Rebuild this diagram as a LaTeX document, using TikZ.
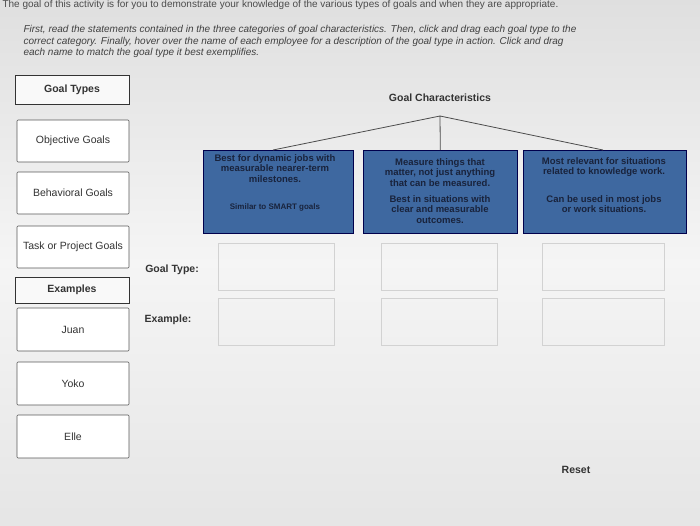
\documentclass[tikz,border=0pt]{standalone}
\usepackage{fontspec}
\setmainfont{Liberation Sans}
\definecolor{bluebox}{RGB}{62,104,160}
\definecolor{bluetext}{RGB}{25,35,60}
\begin{document}
\begin{tikzpicture}[x=1pt,y=-1pt,
  card/.style={draw=gray!70!black,fill=white,rounded corners=1pt,line width=0.6pt,font=\fontsize{10.5}{12}\selectfont,text=black!80},
  head/.style={draw=black!80,fill=white!95!gray,line width=1pt,font=\bfseries\fontsize{10.5}{12}\selectfont,text=black!80},
  blue/.style={draw=blue!30!black,fill=bluebox,line width=0.6pt,text=bluetext,font=\bfseries\fontsize{9.5}{10.5}\selectfont,align=center},
  slot/.style={draw=gray!35,line width=0.5pt},
  lbl/.style={font=\bfseries\fontsize{10.5}{12}\selectfont,text=black!80}]
\shade[top color=gray!25,bottom color=gray!20,middle color=white!92!gray] (0,0) rectangle (700,525);
\useasboundingbox (0,0) rectangle (700,525);
\node[anchor=west,font=\fontsize{10}{12}\selectfont,text=black!70] (intro) at (-1,5) {The goal of this activity is for you to demonstrate your knowledge of the various types of goals and when they are appropriate.};
\node[anchor=north west,font=\itshape\fontsize{10}{11.5}\selectfont,text=black!75,align=left] (instr) at (20,22) {First, read the statements contained in the three categories of goal characteristics. Then, click and drag each goal type to the\\correct category. Finally, hover over the name of each employee for a description of the goal type in action. Click and drag\\each name to match the goal type it best exemplifies.};
\node[head,minimum width=114,minimum height=29] (gt) at (72,89.5) {Goal Types};
\node[card,minimum width=112,minimum height=42] (obj) at (73,141) {Objective Goals};
\node[card,minimum width=112,minimum height=42] (beh) at (73,193) {Behavioral Goals};
\node[card,minimum width=112,minimum height=42] (task) at (73,247) {Task or Project Goals};
\node[head,minimum width=114,minimum height=26] (ex) at (72,290) {Examples};
\node[card,minimum width=112,minimum height=43] (juan) at (73,329.5) {Juan};
\node[card,minimum width=112,minimum height=43] (yoko) at (73,383.5) {Yoko};
\node[card,minimum width=112,minimum height=43] (elle) at (73,436.5) {Elle};
\node[lbl] (gc) at (440,98) {Goal Characteristics};
\coordinate (apex) at (440,116);
\node[blue,minimum width=150,minimum height=83,anchor=north west] (b1) at (203,150) {};
\node[blue,minimum width=154,minimum height=83,anchor=north west] (b2) at (363,150) {};
\node[blue,minimum width=163,minimum height=83,anchor=north west] (b3) at (523,150) {};
\node[blue,anchor=north,draw=none,fill=none,inner sep=0] at (275,154) {Best for dynamic jobs with\\measurable nearer-term\\milestones.};
\node[blue,anchor=north,draw=none,fill=none,inner sep=0,font=\bfseries\fontsize{8}{9}\selectfont] at (275,203) {Similar to SMART goals};
\node[blue,anchor=north,draw=none,fill=none,inner sep=0] at (440,158) {Measure things that\\matter, not just anything\\that can be measured.};
\node[blue,anchor=north,draw=none,fill=none,inner sep=0] at (440,195) {Best in situations with\\clear and measurable\\outcomes.};
\node[blue,anchor=north,draw=none,fill=none,inner sep=0] at (604,157) {Most relevant for situations\\related to knowledge work.};
\node[blue,anchor=north,draw=none,fill=none,inner sep=0] at (604,195) {Can be used in most jobs\\or work situations.};
\draw[gray!60!black,line width=0.8pt] (apex) -- (273,150) (apex) -- (b2.north) (apex) -- (603,150);
\node[lbl] (gtl) at (172,270) {Goal Type:};
\node[lbl] (exl) at (168,320) {Example:};
\foreach \x/\w in {218/116,381/116,542/122}{
  \draw[slot] (\x,243) rectangle ++(\w,47);
  \draw[slot] (\x,298) rectangle ++(\w,47);
}
\node[lbl] (reset) at (576,470) {Reset};
\end{tikzpicture}
\end{document}
